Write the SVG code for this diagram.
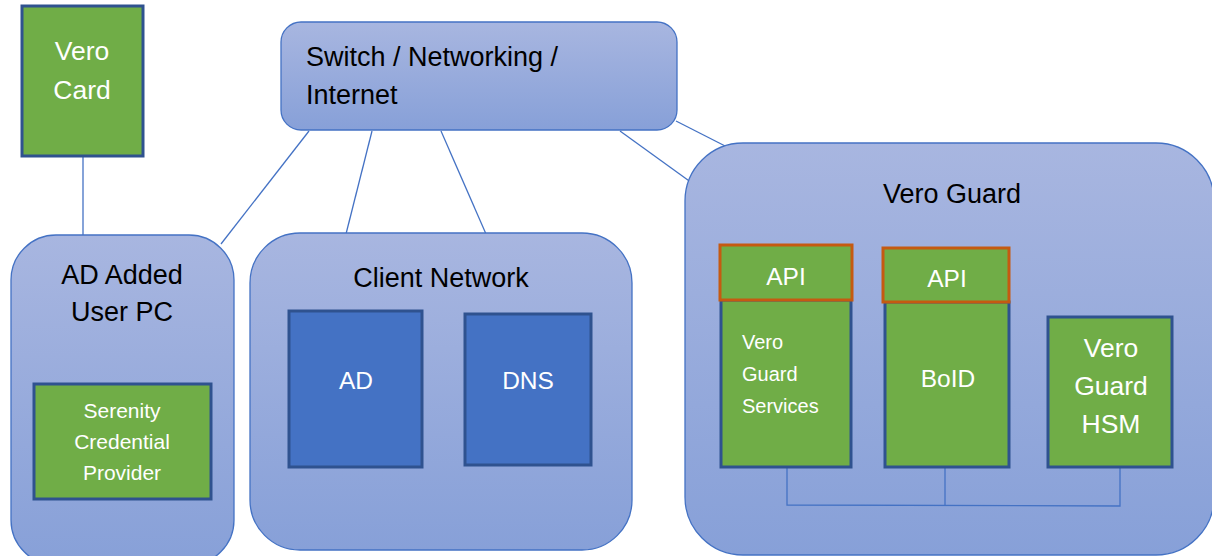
<svg xmlns="http://www.w3.org/2000/svg" width="1212" height="556" viewBox="0 0 1212 556">
<defs>
<linearGradient id="g" x1="0" y1="0" x2="0" y2="1">
<stop offset="0" stop-color="#A8B6E0"/>
<stop offset="1" stop-color="#87A0D8"/>
</linearGradient>
<style>
.cont{fill:url(#g);stroke:#4472C4;stroke-width:1.3}
.green{fill:#70AD47;stroke:#2F528F;stroke-width:3}
.api{fill:#70AD47;stroke:#C55A11;stroke-width:3}
.blue{fill:#4472C4;stroke:#2F528F;stroke-width:3}
.t{font-family:"Liberation Sans",Arial,sans-serif;font-size:27px;fill:#000}
.w{font-family:"Liberation Sans",Arial,sans-serif;font-size:24.5px;fill:#fff;text-anchor:middle}
.wl{font-size:26.5px}
.s{font-family:"Liberation Sans",Arial,sans-serif;font-size:21px;fill:#fff}
.s2{font-size:20px}
.c{text-anchor:middle}
.ln{stroke:#4472C4;stroke-width:1.3;fill:none}
</style>
</defs>
<g id="connectors">
<line class="ln" x1="83" y1="156" x2="83" y2="235"/>
<line class="ln" x1="309" y1="131" x2="221" y2="244"/>
<line class="ln" x1="372" y1="131" x2="346" y2="234"/>
<line class="ln" x1="441" y1="131" x2="486" y2="234"/>
<line class="ln" x1="620" y1="131" x2="692" y2="183"/>
<line class="ln" x1="676" y1="121" x2="733" y2="150"/>
</g>
<g id="switch">
<rect class="cont" x="281" y="22" width="396" height="108" rx="20"/>
<text class="t" x="306" y="66">Switch / Networking /</text>
<text class="t" x="306" y="104">Internet</text>
</g>
<g id="vero-card">
<rect class="green" x="22" y="6" width="121" height="150"/>
<text class="w wl" x="82" y="60">Vero</text>
<text class="w wl" x="82" y="99">Card</text>
</g>
<g id="user-pc">
<rect class="cont" x="11" y="235" width="223" height="330" rx="45"/>
<text class="t c" x="122" y="284">AD Added</text>
<text class="t c" x="122" y="321">User PC</text>
</g>
<g id="serenity">
<rect class="green" x="34" y="384" width="177" height="115"/>
<text class="s c" x="122" y="418">Serenity</text>
<text class="s c" x="122" y="449">Credential</text>
<text class="s c" x="122" y="480">Provider</text>
</g>
<g id="client-network">
<rect class="cont" x="250" y="233" width="382" height="317" rx="50"/>
<text class="t c" x="441" y="287">Client Network</text>
</g>
<g id="ad">
<rect class="blue" x="289" y="311" width="133" height="156"/>
<text class="w" x="356" y="389">AD</text>
</g>
<g id="dns">
<rect class="blue" x="465" y="314" width="126" height="151"/>
<text class="w" x="528" y="389">DNS</text>
</g>
<g id="vero-guard">
<rect class="cont" x="685" y="143" width="529" height="412" rx="58"/>
<text class="t c" x="952" y="203">Vero Guard</text>
</g>
<g id="bus">
<polyline class="ln" points="787,467 787,505 1120,506 1120,468"/>
<line class="ln" x1="945" y1="467" x2="945" y2="505"/>
</g>
<g id="vgs">
<rect class="green" x="721" y="300" width="130" height="167"/>
<text class="s s2" x="742" y="349">Vero</text>
<text class="s s2" x="742" y="381">Guard</text>
<text class="s s2" x="742" y="413">Services</text>
</g>
<g id="api1">
<rect class="api" x="720" y="245" width="132" height="55"/>
<text class="w" x="786" y="285">API</text>
</g>
<g id="boid">
<rect class="green" x="885" y="302" width="124" height="165"/>
<text class="w" x="948" y="387">BoID</text>
</g>
<g id="api2">
<rect class="api" x="883" y="248" width="126" height="54"/>
<text class="w" x="947" y="287">API</text>
</g>
<g id="hsm">
<rect class="green" x="1048" y="317" width="124" height="150"/>
<text class="w wl" x="1111" y="357">Vero</text>
<text class="w wl" x="1111" y="395">Guard</text>
<text class="w wl" x="1111" y="433">HSM</text>
</g>
</svg>
